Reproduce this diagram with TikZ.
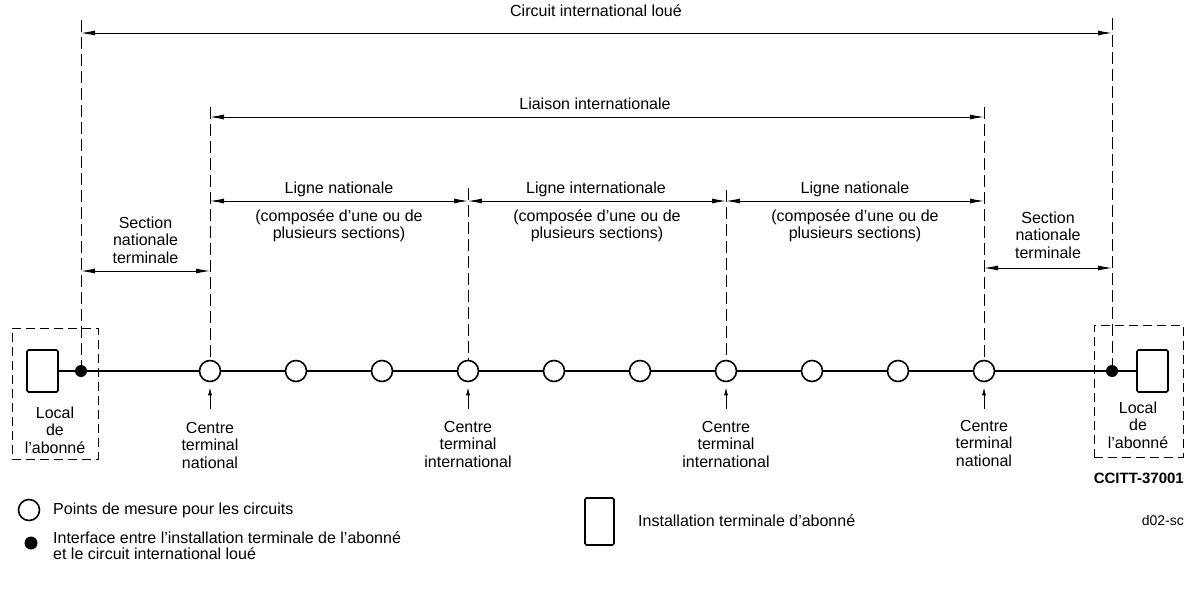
\documentclass[tikz,border=0pt]{standalone}
\usepackage{fontspec}
\setmainfont{Liberation Sans}
\usetikzlibrary{arrows.meta}
\begin{document}
\begin{tikzpicture}[x=1pt,y=-1pt,
  lbl/.style={font=\fontsize{16}{17.5}\selectfont, align=center, inner sep=0pt},
  mp/.style={circle, draw, line width=1.6pt, fill=white, minimum size=21pt, inner sep=0pt},
  ifc/.style={circle, fill=black, minimum size=12pt, inner sep=0pt},
  term/.style={draw, line width=1.6pt, rounded corners=1.5pt, minimum width=31pt, minimum height=42pt, inner sep=0pt, fill=white},
  vdash/.style={line width=0.9pt, dash pattern=on 12pt off 5pt},
  dim/.style={line width=0.9pt, {Latex[length=14pt,width=5pt]}-{Latex[length=14pt,width=5pt]}},
  mainline/.style={line width=1.8pt},
  uparrow/.style={line width=1pt, -{Latex[length=8pt,width=4pt]}, shorten >=5pt},
  boxdash/.style={draw, line width=0.9pt, dash pattern=on 9pt off 5pt, inner sep=0pt},
]
\useasboundingbox[fill=white] (0,0) rectangle (1196,589);

% subscriber boxes
\node[boxdash, minimum width=86pt, minimum height=131pt] (boxL) at (55,393.5) {};
\node[boxdash, minimum width=89pt, minimum height=132pt] (boxR) at (1138.5,391) {};

% terminals and interfaces
\node[term] (termL) at (42.5,371) {};
\node[term] (termR) at (1152.5,371) {};
\node[ifc] (ifcL) at (81,371) {};
\node[ifc] (ifcR) at (1112,371) {};

% measurement points
\foreach \i/\x in {1/210,2/296,3/382,4/468,5/554,6/640,7/726,8/812,9/898,10/984}
  \node[mp] (c\i) at (\x,371) {};

% main line
\draw[mainline] (termL) -- (ifcL) -- (c1) -- (c2) -- (c3) -- (c4) -- (c5) -- (c6) -- (c7) -- (c8) -- (c9) -- (c10) -- (ifcR) -- (termR);

% dashed vertical lines
\coordinate (dL) at (81,20);
\coordinate (t1) at (210,107);
\coordinate (t4) at (468,188);
\coordinate (t7) at (726,190);
\coordinate (t10) at (984,107);
\coordinate (dR) at (1112,18);
\draw[vdash] (dL) -- (ifcL);
\draw[vdash] (t1) -- (c1);
\draw[vdash] (t4) -- (c4);
\draw[vdash] (t7) -- (c7);
\draw[vdash] (t10) -- (c10);
\draw[vdash] (dR) -- (ifcR);

% dimension arrows
\coordinate (a1) at (81,33);   \coordinate (a2) at (1112,33);
\coordinate (b1) at (210,117); \coordinate (b2) at (984,117);
\coordinate (l1) at (210,201); \coordinate (l2) at (468,201);
\coordinate (l3) at (726,201); \coordinate (l4) at (984,201);
\coordinate (s1) at (81,271);  \coordinate (s2) at (210,271);
\coordinate (s3) at (984,268); \coordinate (s4) at (1112,268);
\draw[dim] (a1) -- (a2);
\draw[dim] (b1) -- (b2);
\draw[dim] (l1) -- (l2);
\draw[dim] (l2) -- (l3);
\draw[dim] (l3) -- (l4);
\draw[dim] (s1) -- (s2);
\draw[dim] (s3) -- (s4);

% labels of the dimensions
\node[lbl] (tcir) at (596,11) {Circuit international loué};
\node[lbl] (tlia) at (595,104) {Liaison internationale};
\node[lbl] (tln1) at (339,189) {Ligne nationale};
\node[lbl] (tli) at (596,189) {Ligne internationale};
\node[lbl] (tln2) at (855,189) {Ligne nationale};
\node[lbl] (cmp1) at (339,226) {(composée d’une ou de\\plusieurs sections)};
\node[lbl] (cmp2) at (597,226) {(composée d’une ou de\\plusieurs sections)};
\node[lbl] (cmp3) at (855,226) {(composée d’une ou de\\plusieurs sections)};
\node[lbl] (snt1) at (145.5,240) {Section\\nationale\\terminale};
\node[lbl] (snt2) at (1048,235) {Section\\nationale\\terminale};

% subscriber labels
\node[lbl] (locL) at (55,430) {Local\\de\\l’abonné};
\node[lbl] (locR) at (1138,425) {Local\\de\\l’abonné};

% centre arrows and labels
\foreach \i/\x in {1/210,4/468,7/726,10/984}
  \coordinate (u\i) at (\x,409);
\draw[uparrow] (u1) -- (c1);
\draw[uparrow] (u4) -- (c4);
\draw[uparrow] (u7) -- (c7);
\draw[uparrow] (u10) -- (c10);
\node[lbl] (ct1) at (210,445) {Centre\\terminal\\national};
\node[lbl] (ct4) at (468,444) {Centre\\terminal\\international};
\node[lbl] (ct7) at (726,444) {Centre\\terminal\\international};
\node[lbl] (ct10) at (984,443) {Centre\\terminal\\national};

% reference codes
\node[lbl, anchor=east, font=\bfseries\fontsize{15}{17}\selectfont] (ccitt) at (1184,478) {CCITT-37001};
\node[lbl, anchor=east, font=\fontsize{14}{16}\selectfont] (dsc) at (1184,520) {d02-sc};

% legend
\node[mp, minimum size=21pt] (lgc) at (29,510) {};
\node[lbl, anchor=west] (lgct) at (53,510) {Points de mesure pour les circuits};
\node[ifc, minimum size=13pt] (lgd) at (31,543) {};
\node[lbl, anchor=west, align=left, font=\fontsize{16}{16}\selectfont] (lgdt) at (53,545.5) {Interface entre l’installation terminale de l’abonné\\et le circuit international loué};
\node[term, minimum width=29pt, minimum height=47pt] (lgr) at (599.5,521.5) {};
\node[lbl, anchor=west] (lgrt) at (638,521) {Installation terminale d’abonné};
\end{tikzpicture}
\end{document}
